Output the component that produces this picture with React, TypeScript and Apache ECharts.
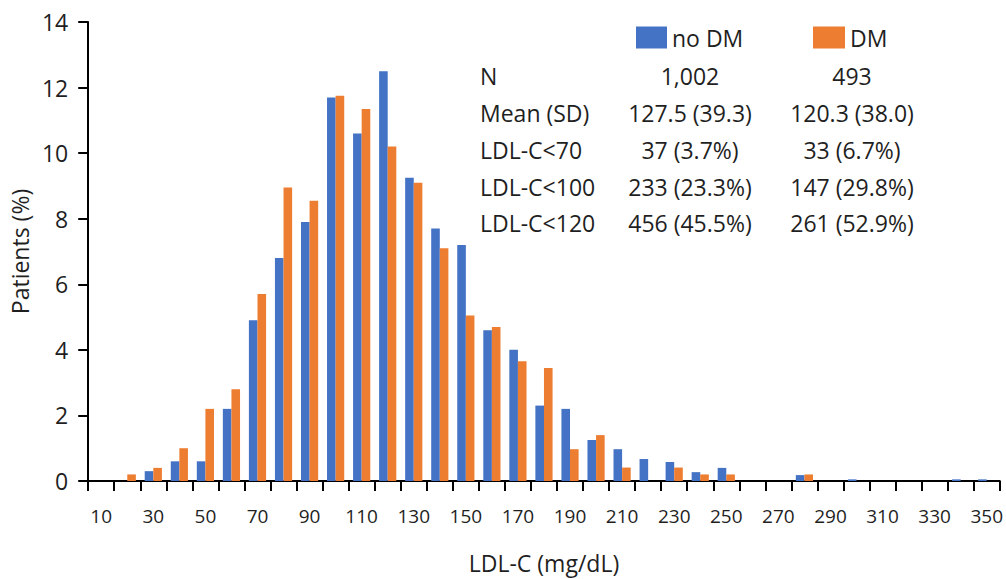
import React, { useEffect, useRef } from "react";
import * as echarts from "echarts";

const categories = [
  "10", "20", "30", "40", "50", "60", "70", "80", "90", "100",
  "110", "120", "130", "140", "150", "160", "170", "180", "190", "200",
  "210", "220", "230", "240", "250", "260", "270", "280", "290", "300",
  "310", "320", "330", "340", "350",
];

const noDM = [
  0, 0, 0.3, 0.6, 0.6, 2.2, 4.9, 6.8, 7.9, 11.7,
  10.6, 12.5, 9.25, 7.7, 7.2, 4.6, 4.0, 2.3, 2.2, 1.25,
  0.97, 0.67, 0.58, 0.27, 0.4, 0, 0, 0.18, 0, 0.05,
  0, 0, 0, 0.05, 0.05,
];

const DM = [
  0, 0.2, 0.4, 1.0, 2.2, 2.8, 5.7, 8.95, 8.55, 11.75,
  11.35, 10.2, 9.1, 7.1, 5.05, 4.7, 3.65, 3.45, 0.97, 1.4,
  0.41, 0, 0.41, 0.2, 0.2, 0, 0, 0.2, 0, 0,
  0, 0, 0, 0, 0,
];

const tableRowLabels = ["N", "Mean (SD)", "LDL-C<70", "LDL-C<100", "LDL-C<120"];
const tableNoDM = ["1,002", "127.5 (39.3)", "37 (3.7%)", "233 (23.3%)", "456 (45.5%)"];
const tableDM = ["493", "120.3 (38.0)", "33 (6.7%)", "147 (29.8%)", "261 (52.9%)"];

const FONT = "'Open Sans', 'Noto Sans', sans-serif";
const TEXT = "#1f1f1f";

export default function App() {
  const ref = useRef<HTMLDivElement>(null);

  useEffect(() => {
    document.body.style.margin = "0";
    if (!ref.current) return;
    const chart = echarts.init(ref.current, undefined, { renderer: "svg" });

    const rowY = [76, 113, 150, 187, 223];
    const graphics: any[] = [];
    const mk = (x: number, y: number, t: string, align: string) => ({
      type: "text",
      x,
      y,
      style: {
        text: t, fontSize: 23, fontFamily: FONT, fill: TEXT,
        textAlign: align, textVerticalAlign: "middle", verticalAlign: "middle",
      },
    });
    tableRowLabels.forEach((t, i) => {
      graphics.push(mk(480, rowY[i], t, "left"));
      graphics.push(mk(690, rowY[i], tableNoDM[i], "center"));
      graphics.push(mk(852, rowY[i], tableDM[i], "center"));
    });

    chart.setOption({
      animation: false,
      backgroundColor: "#ffffff",
      grid: { left: 87, right: 6, top: 22, bottom: 94, containLabel: false },
      legend: [
        {
          data: ["no DM"], left: 636, top: 26, padding: 0, itemWidth: 31, itemHeight: 22,
          icon: "rect", textStyle: { fontSize: 23, fontFamily: FONT, color: TEXT },
        },
        {
          data: ["DM"], left: 813, top: 26, padding: 0, itemWidth: 32, itemHeight: 22,
          icon: "rect", textStyle: { fontSize: 23, fontFamily: FONT, color: TEXT },
        },
      ],
      xAxis: {
        type: "category",
        data: categories,
        name: "LDL-C (mg/dL)",
        nameLocation: "middle",
        nameGap: 70,
        nameTextStyle: { fontSize: 23, fontFamily: FONT, color: TEXT },
        axisLine: { show: true, lineStyle: { color: "#000", width: 2 } },
        axisTick: { show: true, interval: 0, alignWithLabel: false, length: 10, lineStyle: { color: "#000", width: 2 } },
        axisLabel: { interval: 1, fontSize: 19, fontFamily: FONT, color: TEXT, margin: 25 },
      },
      yAxis: {
        type: "value",
        min: 0,
        max: 14,
        interval: 2,
        name: "Patients (%)",
        nameLocation: "middle",
        nameGap: 49,
        nameTextStyle: { fontSize: 23, fontFamily: FONT, color: TEXT },
        axisLine: { show: true, lineStyle: { color: "#000", width: 2 } },
        axisTick: { show: true, length: 10, lineStyle: { color: "#000", width: 2 } },
        axisLabel: { fontSize: 23, fontFamily: FONT, color: TEXT, margin: 20 },
        splitLine: { show: false },
      },
      series: [
        {
          name: "no DM", type: "bar", data: noDM,
          barGap: "0%", barCategoryGap: "34%",
          itemStyle: { color: "#4472C4" },
        },
        {
          name: "DM", type: "bar", data: DM,
          barGap: "0%", barCategoryGap: "34%",
          itemStyle: { color: "#ED7D31" },
        },
      ],
      graphic: graphics,
    });

    return () => chart.dispose();
  }, []);

  return <div ref={ref} style={{ width: 1006, height: 579 }} />;
}
